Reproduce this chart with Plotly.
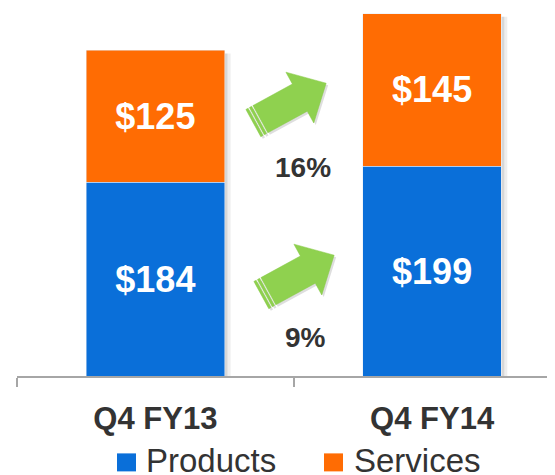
import math

import plotly.graph_objects as go

# 資料
categories = ["Q4 FY13", "Q4 FY14"]
products = [184, 199]
services = [125, 145]
growth_labels = ["16%", "9%"]  # 上排=Services成長, 下排=Products成長

BLUE = "#0a6fd9"
ORANGE = "#ff6c03"
GREEN = "#8fd14f"
TEXT = "#333333"
FONT = "Liberation Sans, Arial, sans-serif"
BAR_W = 0.5
PX_PER_CAT = 276.7  # x軸每個類別的像素寬，用來把箭頭的像素微調換算回資料座標


def arrow_paths(angle_deg=28.7, length=83, shaft=15.5, head_len=30, head_hw=29):
    """以錨點為中心、單位為像素的箭頭(含尾端兩條細條紋)，回傳path字串清單。"""
    a = math.radians(angle_deg)
    ca, sa = math.cos(a), math.sin(a)
    u0 = -length / 2

    def poly(points):
        xy = [(u * ca - v * sa, u * sa + v * ca) for u, v in points]
        return "M" + "L".join(f"{x:.2f},{y:.2f}" for x, y in xy) + "Z"

    hb = u0 + length - head_len
    tip = u0 + length
    body = poly([(u0 + 8, -shaft), (hb, -shaft), (hb, -head_hw), (tip, 0),
                 (hb, head_hw), (hb, shaft), (u0 + 8, shaft)])
    s1 = poly([(u0, -shaft), (u0 + 2.5, -shaft), (u0 + 2.5, shaft), (u0, shaft)])
    s2 = poly([(u0 + 4, -shaft), (u0 + 6.5, -shaft), (u0 + 6.5, shaft), (u0 + 4, shaft)])
    return [body, s1, s2]


fig = go.Figure()
for name, vals, color in [("Products", products, BLUE), ("Services", services, ORANGE)]:
    fig.add_trace(go.Bar(
        x=categories, y=vals, name=name, marker_color=color, width=BAR_W,
        text=[f"${v}" for v in vals], textposition="inside", insidetextanchor="middle",
        textfont=dict(size=36, color="white", family=FONT, weight="bold"), textangle=0,
    ))

# 長條右側的陰影
for i, (p, s) in enumerate(zip(products, services)):
    for x0, x1, op in [(0, 3, 0.28), (3, 6, 0.12)]:
        fig.add_shape(type="rect", xref="x", yref="y", xsizemode="pixel", xanchor=i + BAR_W / 2,
                      x0=x0, x1=x1, y0=0, y1=p + s - 3, fillcolor="#707070", opacity=op,
                      line_width=0, layer="below")

# 成長箭頭：錨點放在兩根長條同一段中心的平均高度
mid_services = sum(p + s / 2 for p, s in zip(products, services)) / 2
mid_products = sum(p / 2 for p in products) / 2
for y_anchor, dx in [(mid_services, -4), (mid_products, 4)]:
    xa = 0.5 + dx / PX_PER_CAT
    for path in arrow_paths():
        fig.add_shape(type="path", xref="x", yref="y", xsizemode="pixel", ysizemode="pixel",
                      xanchor=xa + 2 / PX_PER_CAT, yanchor=y_anchor - 2 / 1.055, path=path,
                      fillcolor="rgba(0,0,0,0.13)", line_width=0)
    for path in arrow_paths():
        fig.add_shape(type="path", xref="x", yref="y", xsizemode="pixel", ysizemode="pixel",
                      xanchor=xa, yanchor=y_anchor, path=path,
                      fillcolor=GREEN, line=dict(color="#86c846", width=0.5))

fig.add_annotation(x=0.535, y=197.5, xref="x", yref="y", text=f"<b>{growth_labels[0]}</b>",
                   showarrow=False, font=dict(size=28, color=TEXT, family=FONT))
fig.add_annotation(x=0.543, y=36.5, xref="x", yref="y", text=f"<b>{growth_labels[1]}</b>",
                   showarrow=False, font=dict(size=28, color=TEXT, family=FONT))

# 自訂圖例(方塊比plotly內建圖例符號大)
for name, color, sq0, tx in [("Products", BLUE, 0.1859, 0.236), ("Services", ORANGE, 0.5706, 0.6227)]:
    fig.add_shape(type="rect", xref="paper", yref="paper", x0=sq0, x1=sq0 + 0.0353,
                  y0=-0.2592, y1=-0.2103, fillcolor=color, line_width=0)
    fig.add_annotation(x=tx, y=-0.2307, xref="paper", yref="paper", text=name, showarrow=False,
                       xanchor="left", yanchor="middle", font=dict(size=33, color=TEXT, family=FONT))

# 頁面body預設有8px外距，圖本身縮成547x467剛好塞滿555x475視窗
fig.update_layout(
    barmode="stack", width=547, height=467, showlegend=False,
    plot_bgcolor="white", paper_bgcolor="white",
    margin=dict(l=9, r=0, t=0, b=98.5),
    font=dict(family=FONT, color=TEXT),
)
fig.update_xaxes(
    type="category", range=[-0.5, 1.444], showline=True, linecolor="#a6a6a6", linewidth=1.5,
    ticks="outside", tickson="boundaries", ticklen=9, tickcolor="#a6a6a6", tickwidth=1.5,
    tickfont=dict(size=31, color=TEXT, family=FONT, weight="bold"), ticklabelstandoff=14,
    showgrid=False,
)
fig.update_yaxes(range=[0, 349.3], visible=False, showgrid=False)

fig.write_html("out.html")
